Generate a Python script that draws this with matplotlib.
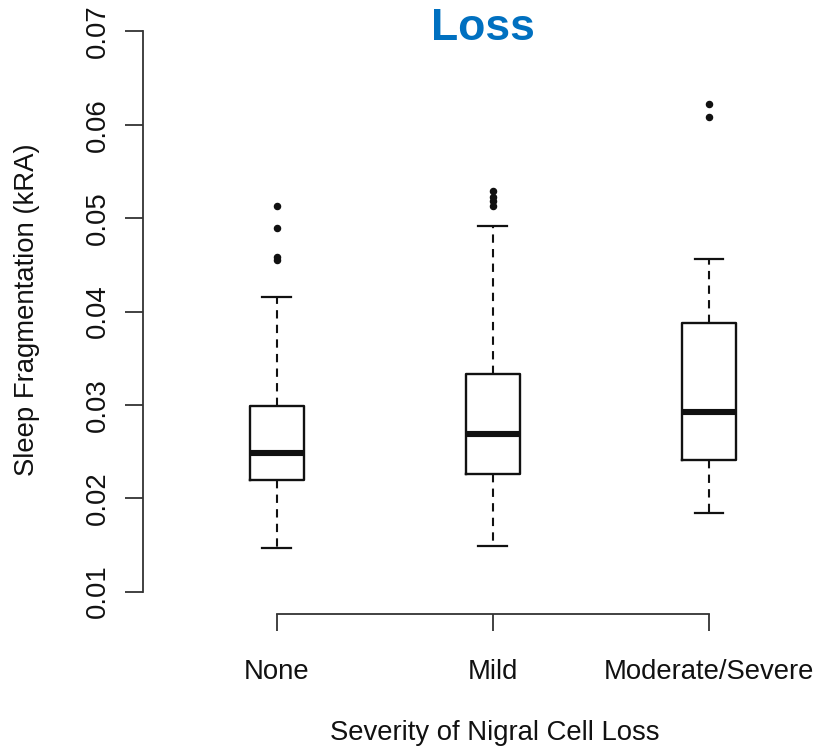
import matplotlib
matplotlib.use("Agg")
import matplotlib.pyplot as plt

plt.rcParams['font.family'] = ['Liberation Sans', 'DejaVu Sans']

# Box-plot summary per severity group
categories = ["None", "Mild", "Moderate/Severe"]
whisker_low = [0.01465, 0.01483, 0.01844]
q1 = [0.0219, 0.02263, 0.02406]
medians = [0.02484, 0.02692, 0.02924]
q3 = [0.02985, 0.03328, 0.03872]
whisker_high = [0.04158, 0.04916, 0.04562]
outliers = [
    [0.0513, 0.0489, 0.0458, 0.0455],
    [0.0529, 0.0523, 0.0518, 0.0513],
    [0.06225, 0.06078],
]
y_ticks = [0.01, 0.02, 0.03, 0.04, 0.05, 0.06, 0.07]
y_tick_labels = ["0.01", "0.02", "0.03", "0.04", "0.05", "0.06", "0.07"]

W, H = 817, 750
FS = 19.8
fig = plt.figure(figsize=(W / 100, H / 100), dpi=100)
ax = fig.add_axes([143 / W, (H - 614) / H, 674 / W, 605 / H])

stats = []
for i, name in enumerate(categories):
    stats.append(dict(label=name, whislo=whisker_low[i], q1=q1[i], med=medians[i],
                      q3=q3[i], whishi=whisker_high[i], fliers=outliers[i]))

positions = list(range(1, len(categories) + 1))
ink = "#111111"
ax.bxp(stats, positions=positions, widths=0.25, capwidths=0.134,
       boxprops=dict(color=ink, linewidth=1.7),
       medianprops=dict(color=ink, linewidth=4.4, solid_capstyle='butt'),
       whiskerprops=dict(color=ink, linewidth=1.5, linestyle=(0, (4, 3))),
       capprops=dict(color=ink, linewidth=1.6),
       flierprops=dict(marker='o', markersize=4.4, markerfacecolor=ink,
                       markeredgecolor=ink, linestyle='none'))

ax.set_xlim(0.38, 3.5)
ax.set_ylim(0.0076, 0.0724)

for side in ("top", "right"):
    ax.spines[side].set_visible(False)
ax.spines["left"].set_bounds(0.01, 0.07)
ax.spines["bottom"].set_bounds(1, 3)
for side in ("left", "bottom"):
    ax.spines[side].set_color("#333333")
    ax.spines[side].set_linewidth(1.3)

ax.set_yticks(y_ticks)
ax.set_yticklabels(y_tick_labels, rotation=90, va="center", fontsize=FS)
ax.set_xticks(positions)
ax.set_xticklabels(categories, fontsize=FS)
ax.tick_params(axis="y", length=13, width=1.3, color="#333333", pad=10, labelcolor="#111111")
ax.tick_params(axis="x", length=12, width=1.3, color="#333333", pad=20.5, labelcolor="#111111")

fig.text(27 / W, 1 - 310 / H, "Sleep Fragmentation (kRA)", rotation=90,
         ha="center", va="center", fontsize=FS, color="#111111")
fig.text(495 / W, 1 - 740 / H, "Severity of Nigral Cell Loss",
         ha="center", va="baseline", fontsize=FS, color="#111111")
fig.text(482.5 / W, 1 - 39.5 / H, "Loss", ha="center", va="baseline",
         fontsize=32, fontweight="bold", color="#0070C0")

fig.savefig("out.png", dpi=100)
